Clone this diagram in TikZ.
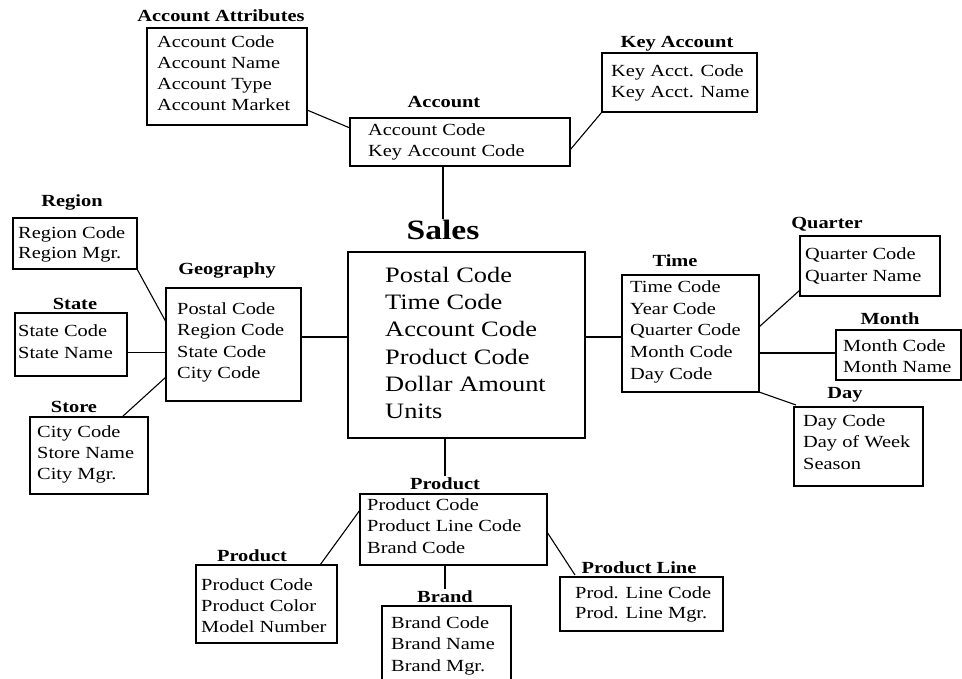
\documentclass[tikz,border=0pt]{standalone}
\usepackage{fontspec}
\setmainfont[FakeStretch=1.2]{Liberation Serif}
\usetikzlibrary{calc}
\tikzset{
  ebox/.style={draw, line width=1.6pt, inner sep=0pt, outer sep=0pt, anchor=north west},
  etitle/.style={font=\fontsize{17}{20}\selectfont\bfseries, anchor=base, inner sep=1pt},
  entry/.style={font=\fontsize{17}{20}\selectfont, anchor=base west, inner sep=0pt},
  bigentry/.style={font=\fontsize{22}{27}\selectfont, anchor=base west, inner sep=0pt},
  bigtitle/.style={font=\fontsize{28}{32}\selectfont\bfseries, anchor=base, inner sep=1pt},
  link/.style={draw, line width=1.1pt}
}
\begin{document}
\begin{tikzpicture}[x=1pt,y=-1pt]
\useasboundingbox[fill=white] (0,0) rectangle (962,679);

% Account Attributes
\node[ebox, minimum width=160pt, minimum height=97pt] (aa) at (147,28) {};
\node[etitle] (aa-t) at (221,22) {Account Attributes};
\foreach \t [count=\i] in {Account Code,Account Name,Account Type,Account Market}
  \node[entry] (aa-\i) at (157,{48+21*(\i-1)}) {\t};

% Account
\node[ebox, minimum width=220pt, minimum height=48pt] (acc) at (350,118) {};
\node[etitle] (acc-t) at (444,108) {Account};
\foreach \t [count=\i] in {Account Code,Key Account Code}
  \node[entry] (acc-\i) at (368,{136+21*(\i-1)}) {\t};

% Key Account
\node[ebox, minimum width=155pt, minimum height=59pt] (ka) at (602,53) {};
\node[etitle] (ka-t) at (677,48) {Key Account};
\foreach \t [count=\i] in {Key Acct. Code,Key Acct. Name}
  \node[entry] (ka-\i) at (611,{77+21*(\i-1)}) {\t};

% Sales
\node[ebox, minimum width=237pt, minimum height=186pt] (sales) at (348,252) {};
\node[bigtitle] (sales-t) at (443,240) {Sales};
\foreach \t [count=\i] in {Postal Code,Time Code,Account Code,Product Code,Dollar Amount,Units}
  \node[bigentry] (sales-\i) at (385,{283+27*(\i-1)}) {\t};

% Region
\node[ebox, minimum width=124pt, minimum height=51pt] (reg) at (13,218) {};
\node[etitle] (reg-t) at (72,207) {Region};
\foreach \t [count=\i] in {Region Code,Region Mgr.}
  \node[entry] (reg-\i) at (18,{239+20*(\i-1)}) {\t};

% Geography
\node[ebox, minimum width=135pt, minimum height=113pt] (geo) at (166,288) {};
\node[etitle] (geo-t) at (227,275) {Geography};
\foreach \t [count=\i] in {Postal Code,Region Code,State Code,City Code}
  \node[entry] (geo-\i) at (177,{315+21*(\i-1)}) {\t};

% State
\node[ebox, minimum width=112pt, minimum height=63pt] (st) at (15,313) {};
\node[etitle] (st-t) at (75,309) {State};
\foreach \t [count=\i] in {State Code,State Name}
  \node[entry] (st-\i) at (18,{337+22*(\i-1)}) {\t};

% Store
\node[ebox, minimum width=118pt, minimum height=77pt] (sto) at (30,417) {};
\node[etitle] (sto-t) at (74,412) {Store};
\foreach \t [count=\i] in {City Code,Store Name,City Mgr.}
  \node[entry] (sto-\i) at (37,{437+21*(\i-1)}) {\t};

% Time
\node[ebox, minimum width=137pt, minimum height=117pt] (time) at (622,275) {};
\node[etitle] (time-t) at (675,267) {Time};
\foreach \t [count=\i] in {Time Code,Year Code,Quarter Code,Month Code,Day Code}
  \node[entry] (time-\i) at (630,{293+21.5*(\i-1)}) {\t};

% Quarter
\node[ebox, minimum width=140pt, minimum height=60pt] (q) at (800,236) {};
\node[etitle] (q-t) at (827,229) {Quarter};
\foreach \t [count=\i] in {Quarter Code,Quarter Name}
  \node[entry] (q-\i) at (805,{260+22*(\i-1)}) {\t};

% Month
\node[ebox, minimum width=125pt, minimum height=50pt] (mon) at (836,330) {};
\node[etitle] (mon-t) at (890,325) {Month};
\foreach \t [count=\i] in {Month Code,Month Name}
  \node[entry] (mon-\i) at (843,{352+21*(\i-1)}) {\t};

% Day
\node[ebox, minimum width=129pt, minimum height=79pt] (day) at (794,407) {};
\node[etitle] (day-t) at (845,399) {Day};
\foreach \t [count=\i] in {Day Code,Day of Week,Season}
  \node[entry] (day-\i) at (803,{426+21.5*(\i-1)}) {\t};

% Product (centre)
\node[ebox, minimum width=187pt, minimum height=71pt] (prod) at (360,494) {};
\node[etitle] (prod-t) at (445,489) {Product};
\foreach \t [count=\i] in {Product Code,Product Line Code,Brand Code}
  \node[entry] (prod-\i) at (367,{510+21.5*(\i-1)}) {\t};

% Product (left)
\node[ebox, minimum width=141pt, minimum height=78pt] (prodL) at (196,565) {};
\node[etitle] (prodL-t) at (252,561) {Product};
\foreach \t [count=\i] in {Product Code,Product Color,Model Number}
  \node[entry] (prodL-\i) at (201,{590+21*(\i-1)}) {\t};

% Brand
\node[ebox, minimum width=129pt, minimum height=85pt] (brand) at (382,606) {};
\node[etitle] (brand-t) at (445,602) {Brand};
\foreach \t [count=\i] in {Brand Code,Brand Name,Brand Mgr.}
  \node[entry] (brand-\i) at (391,{628+21.5*(\i-1)}) {\t};

% Product Line
\node[ebox, minimum width=163pt, minimum height=54pt] (pline) at (560,577) {};
\node[etitle] (pline-t) at (639,573) {Product Line};
\foreach \t [count=\i] in {Prod. Line Code,Prod. Line Mgr.}
  \node[entry] (pline-\i) at (575,{598+20*(\i-1)}) {\t};

% ---- connectors ----
\draw[link] ([yshift=-33.5pt]aa.east) -- ([yshift=14pt]acc.west);
\draw[link] (ka.south west) -- ([yshift=-8pt]acc.east);
\draw[link] (acc.south -| sales-t.north) -- (sales-t.north);

\coordinate (sL) at ([yshift=8pt]sales.west);
\draw[link] (sL) -- (sL -| geo.east);
\coordinate (sR) at ([yshift=8pt]sales.east);
\draw[link] (sR) -- (sR -| time.west);
\draw[link] (sales.south -| prod-t.north) -- (prod-t.north);

\draw[link] (reg.south east) -- ([yshift=22.5pt]geo.west);
\coordinate (stc) at ([yshift=-8pt]st.east);
\draw[link] (stc) -- (stc -| geo.west);
\draw[link] ([xshift=33pt]sto.north) -- ([yshift=-32.5pt]geo.west);

\draw[link] ([yshift=6.5pt]time.east) -- ([yshift=-24pt]q.west);
\coordinate (tm) at ([yshift=-19.5pt]time.east);
\draw[link] (tm) -- (tm -| mon.west);
\draw[link] (time.south east) -- ([xshift=2pt,yshift=2pt]day.north west);

\draw[link] (prod.south -| brand-t.north) -- (brand-t.north);
\draw[link] ([yshift=19.5pt]prod.west) -- ([xshift=53.5pt]prodL.north);
\draw[link] ([yshift=-2.5pt]prod.east) -- ([xshift=15pt,yshift=2pt]pline.north west);
\end{tikzpicture}
\end{document}
